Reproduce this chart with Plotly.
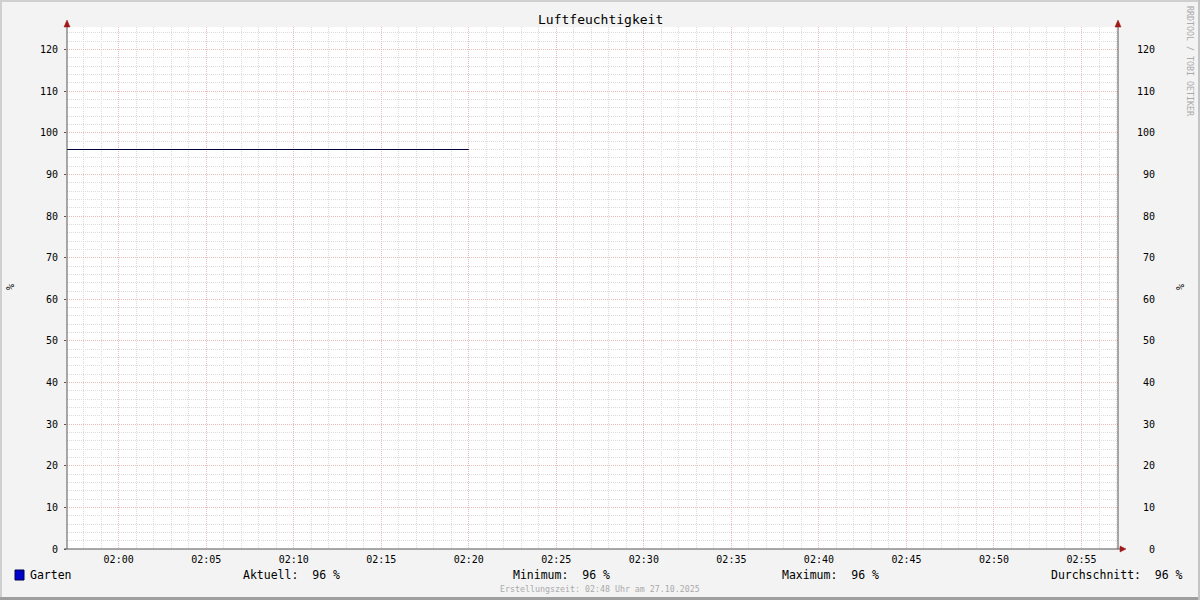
import plotly.graph_objects as go

# ---- data ----
times = ["2025-10-27 01:57", "2025-10-27 01:58", "2025-10-27 01:59", "2025-10-27 02:00",
         "2025-10-27 02:01", "2025-10-27 02:02", "2025-10-27 02:03", "2025-10-27 02:04",
         "2025-10-27 02:05", "2025-10-27 02:06", "2025-10-27 02:07", "2025-10-27 02:08",
         "2025-10-27 02:09", "2025-10-27 02:10", "2025-10-27 02:11", "2025-10-27 02:12",
         "2025-10-27 02:13", "2025-10-27 02:14", "2025-10-27 02:15", "2025-10-27 02:16",
         "2025-10-27 02:17", "2025-10-27 02:18", "2025-10-27 02:19", "2025-10-27 02:20"]
humidity = [96] * len(times)
series_name = "Garten"
y_ticks = [0, 10, 20, 30, 40, 50, 60, 70, 80, 90, 100, 110, 120]
x_range = ["2025-10-27 01:57:03", "2025-10-27 02:57:05"]
y_range = [0, 125.44]
stats = [("Aktuell:", "96 %"), ("Minimum:", "96 %"), ("Maximum:", "96 %"), ("Durchschnitt:", "96 %")]
title = "Luftfeuchtigkeit"
footer = "Erstellungszeit: 02:48 Uhr am 27.10.2025"
watermark = "RRDTOOL / TOBI OETIKER"
unit = "%"

W, H = 1200, 600
L, R, T, B = 67, 1118, 27, 549
FONT = "DejaVu Sans Mono"
NB = "\u00a0"


def px(x):
    return (x - L) / (R - L)


def py(y):
    return (B - y) / (B - T)


def nb(s):
    return s.replace(" ", NB)


fig = go.Figure()
fig.add_trace(go.Scatter(x=times, y=humidity, mode="lines", name=series_name,
                         line=dict(color="#000040", width=1), showlegend=False,
                         hoverinfo="skip"))
fig.add_trace(go.Scatter(x=times, y=humidity, mode="lines", yaxis="y2",
                         line=dict(color="rgba(0,0,0,0)", width=1), showlegend=False,
                         hoverinfo="skip"))

major_grid = "#ebbcbc"
minor_grid = "#dcdcdc"
DOT = "1px,1px"

fig.update_layout(
    width=W, height=H,
    margin=dict(l=L, r=W - R, t=T, b=H - B, pad=0),
    paper_bgcolor="#f3f3f3", plot_bgcolor="#ffffff",
    font=dict(family=FONT, size=10, color="#000000"),
    xaxis=dict(type="date", range=x_range, tickformat="%H:%M",
               dtick=300000, tick0="2025-10-27 02:00",
               showgrid=True, gridcolor=major_grid, griddash=DOT, gridwidth=1,
               minor=dict(dtick=60000, tick0="2025-10-27 02:00", showgrid=True,
                          gridcolor=minor_grid, griddash=DOT, gridwidth=1),
               ticks="", showline=False, zeroline=False,
               tickfont=dict(family=FONT, size=10), ticklabelstandoff=3),
    yaxis=dict(range=y_range, tickvals=y_ticks, showgrid=True, gridcolor=major_grid,
               griddash=DOT, gridwidth=1,
               minor=dict(dtick=2, showgrid=True, gridcolor=minor_grid,
                          griddash=DOT, gridwidth=1),
               ticks="outside", ticklen=2, tickcolor="#555555",
               showline=False, zeroline=False,
               tickfont=dict(family=FONT, size=10), ticklabelstandoff=4),
    yaxis2=dict(range=y_range, overlaying="y", side="right", tickvals=y_ticks,
                ticktext=[str(v).rjust(3, NB) for v in y_ticks],
                showgrid=False, zeroline=False, showline=False, ticks="",
                tickfont=dict(family=FONT, size=10), ticklabelstandoff=18),
    showlegend=False,
)

shapes = []
# outer 3D frame
shapes.append(dict(type="line", xref="paper", yref="paper", x0=px(0), x1=px(W), y0=py(1), y1=py(1),
                   line=dict(color="#cfcfcf", width=2)))
shapes.append(dict(type="line", xref="paper", yref="paper", x0=px(1), x1=px(1), y0=py(0), y1=py(H),
                   line=dict(color="#cfcfcf", width=2)))
shapes.append(dict(type="line", xref="paper", yref="paper", x0=px(0), x1=px(W), y0=py(H - 1.5), y1=py(H - 1.5),
                   line=dict(color="#9e9e9e", width=3)))
shapes.append(dict(type="line", xref="paper", yref="paper", x0=px(W - 1), x1=px(W - 1), y0=py(0), y1=py(H),
                   line=dict(color="#c4c4c4", width=2)))
# axis lines
ax_col = "#555555"
shapes.append(dict(type="line", xref="paper", yref="paper", x0=px(L), x1=px(L), y0=py(B), y1=py(23),
                   line=dict(color=ax_col, width=1)))
shapes.append(dict(type="line", xref="paper", yref="paper", x0=px(R), x1=px(R), y0=py(B), y1=py(23),
                   line=dict(color=ax_col, width=1)))
shapes.append(dict(type="line", xref="paper", yref="paper", x0=px(L - 3), x1=px(1121), y0=py(B), y1=py(B),
                   line=dict(color=ax_col, width=1)))
# arrows
arrow_col = "#a01818"
for ax_x in (L, R):
    shapes.append(dict(type="path", xref="paper", yref="paper",
                       path=f"M {px(ax_x - 3)} {py(27)} L {px(ax_x + 3)} {py(27)} L {px(ax_x)} {py(20)} Z",
                       fillcolor=arrow_col, line=dict(color=arrow_col, width=0.5)))
shapes.append(dict(type="path", xref="paper", yref="paper",
                   path=f"M {px(1120)} {py(B - 3)} L {px(1120)} {py(B + 3)} L {px(1126)} {py(B)} Z",
                   fillcolor=arrow_col, line=dict(color=arrow_col, width=0.5)))
# legend square
shapes.append(dict(type="rect", xref="paper", yref="paper", x0=px(15), x1=px(24), y0=py(580), y1=py(570),
                   fillcolor="#0000cc", line=dict(color="#000044", width=1)))
fig.update_layout(shapes=shapes)

ann = []
ann.append(dict(text=title, x=px(600), y=py(19), xref="paper", yref="paper", showarrow=False,
                xanchor="center", yanchor="middle", font=dict(family=FONT, size=13, color="#000000")))
ann.append(dict(text=unit, x=px(10), y=py(287), xref="paper", yref="paper", showarrow=False,
                textangle=-90, xanchor="center", yanchor="middle", font=dict(family=FONT, size=10)))
ann.append(dict(text=unit, x=px(1180), y=py(287), xref="paper", yref="paper", showarrow=False,
                textangle=-90, xanchor="center", yanchor="middle", font=dict(family=FONT, size=10)))
ann.append(dict(text=nb(watermark), x=px(1190), y=py(4), xref="paper", yref="paper", showarrow=False,
                textangle=90, xanchor="center", yanchor="top", font=dict(family=FONT, size=8.3, color="#aaaaaa")))
ann.append(dict(text=series_name, x=px(28), y=py(575), xref="paper", yref="paper", showarrow=False,
                xanchor="left", yanchor="middle", font=dict(family=FONT, size=11.5)))
stat_x = [241, 511, 780, 1049]
for (lab, val), sx in zip(stats, stat_x):
    ann.append(dict(text=nb(f"{lab}  {val}"), x=px(sx), y=py(575), xref="paper", yref="paper",
                    showarrow=False, xanchor="left", yanchor="middle", font=dict(family=FONT, size=11.5)))
ann.append(dict(text=nb(footer), x=px(600), y=py(589), xref="paper", yref="paper", showarrow=False,
                xanchor="center", yanchor="middle", font=dict(family=FONT, size=8.3, color="#aaaaaa")))
fig.update_layout(annotations=ann)

fig.write_html("out.html", config={"displayModeBar": False},
               post_script="document.body.style.margin='0';document.body.style.padding='0';")
